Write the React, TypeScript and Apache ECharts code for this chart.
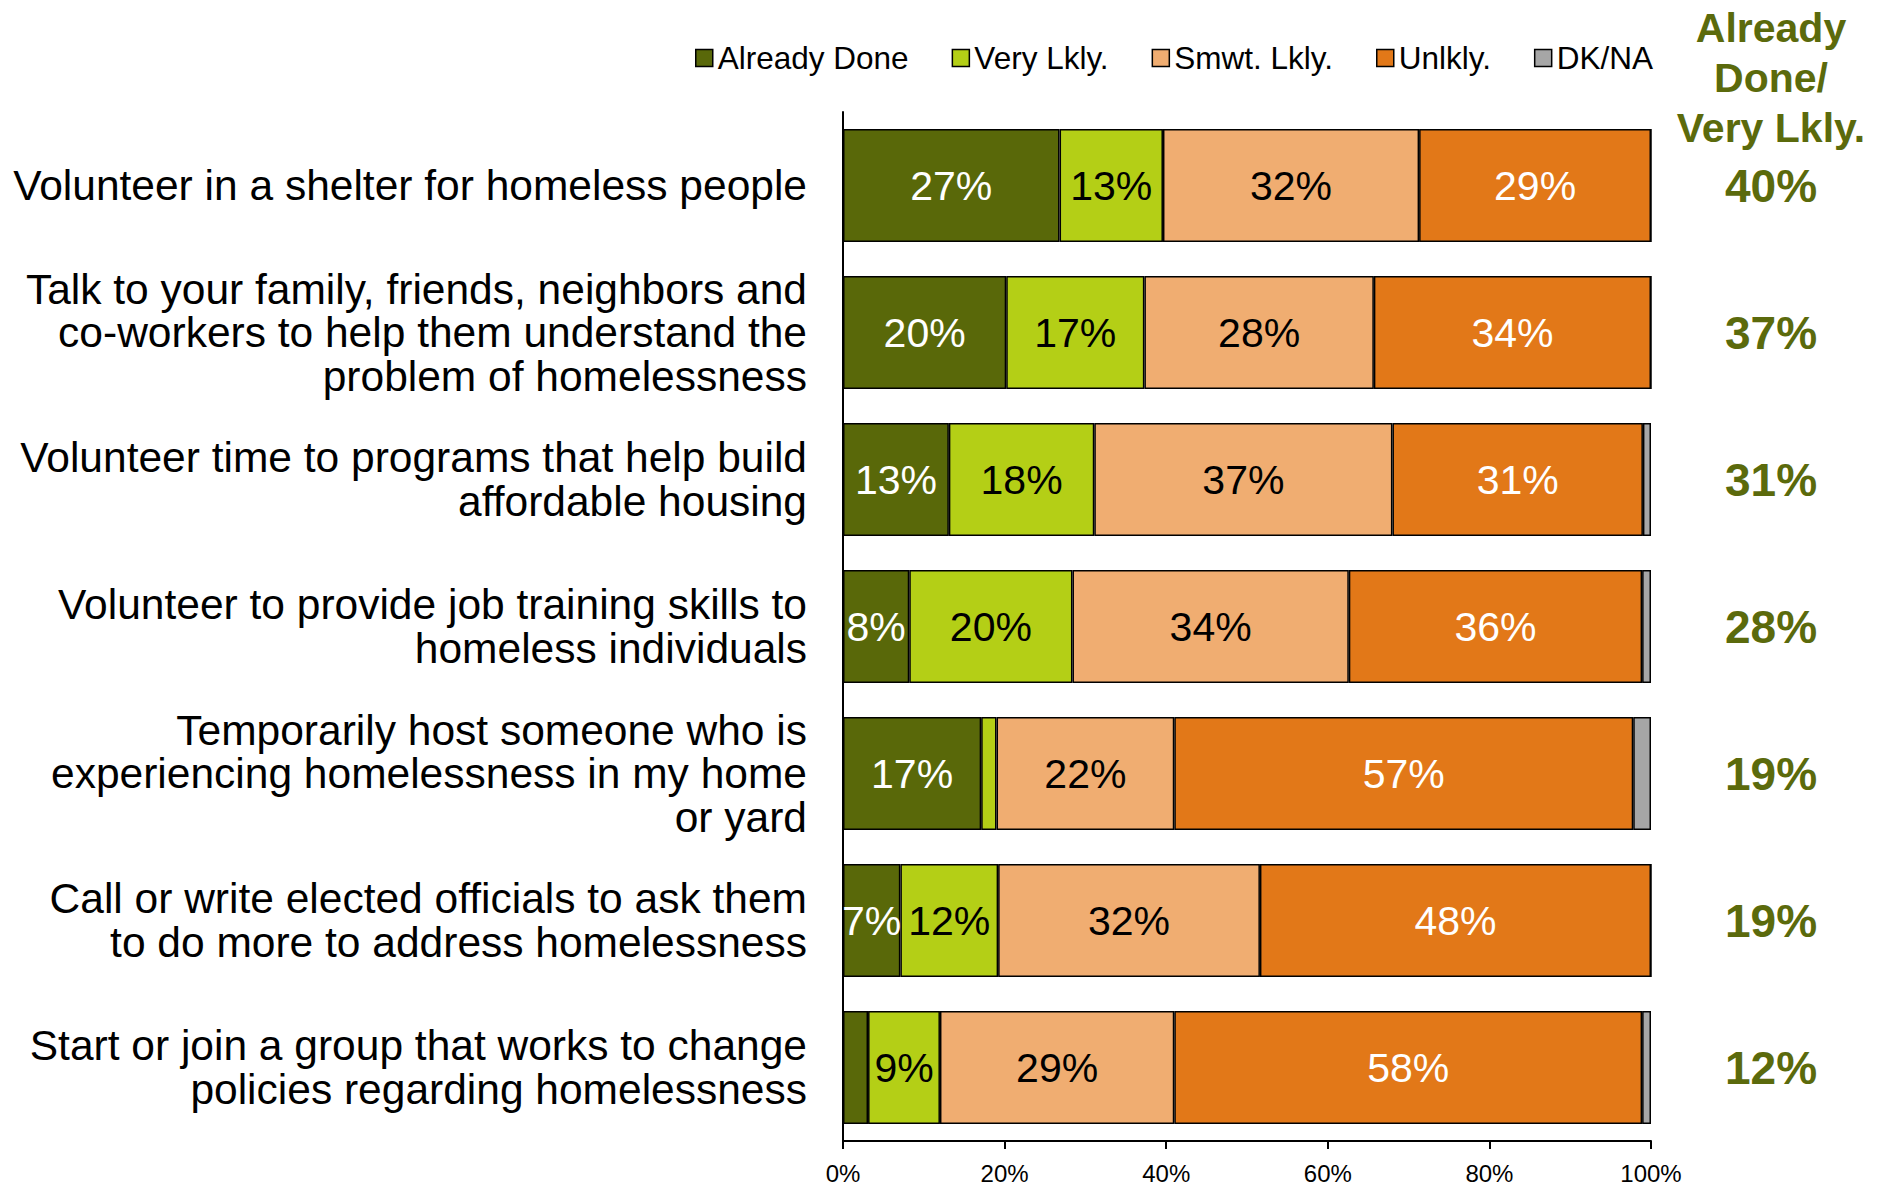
import React, { useEffect, useRef } from "react";
import * as echarts from "echarts";

const categories = [
  "Volunteer in a shelter for homeless people",
  "Talk to your family, friends, neighbors and\nco-workers to help them understand the\nproblem of homelessness",
  "Volunteer time to programs that help build\naffordable housing",
  "Volunteer to provide job training skills to\nhomeless individuals",
  "Temporarily host someone who is\nexperiencing homelessness in my home\nor yard",
  "Call or write elected officials to ask them\nto do more to address homelessness",
  "Start or join a group that works to change\npolicies regarding homelessness",
];

const alreadyDone = [26.8, 20.2, 13.1, 8.2, 17.1, 7.1, 3.1];
const veryLikely = [12.8, 17.1, 18.0, 20.2, 1.9, 12.1, 8.9];
const somewhatLikely = [31.7, 28.4, 36.9, 34.2, 22.0, 32.4, 29.0];
const unlikely = [28.7, 34.3, 31.0, 36.3, 56.8, 48.4, 57.9];
const dkna = [0, 0, 1.0, 1.1, 2.2, 0, 1.1];

const netLikely = ["40%", "37%", "31%", "28%", "19%", "19%", "12%"];
const xTicks = [0, 20, 40, 60, 80, 100];

const seriesNames = ["Already Done", "Very Lkly.", "Smwt. Lkly.", "Unlkly.", "DK/NA"];
const seriesColors = ["#596809", "#B4CF16", "#F0AD71", "#E27818", "#A6A6A6"];
const labelColors = ["#FFFFFF", "#000000", "#000000", "#FFFFFF", "#000000"];

const FONT = "'Liberation Sans', Arial, Helvetica, sans-serif";
const GREEN = "#5B6A0C";

export default function App() {
  const ref = useRef<HTMLDivElement>(null);

  useEffect(() => {
    document.body.style.margin = "0";
    if (!ref.current) return;
    const chart = echarts.init(ref.current, undefined, { renderer: "svg" });
    const seriesData = [alreadyDone, veryLikely, somewhatLikely, unlikely, dkna];

    const option: any = {
      animation: false,
      backgroundColor: "#FFFFFF",
      textStyle: { fontFamily: FONT },
      legend: {
        data: seriesNames,
        left: 690,
        top: 36,
        itemWidth: 17,
        itemHeight: 17,
        itemGap: 43,
        icon: "rect",
        textStyle: { fontSize: 31.5, color: "#000", fontFamily: FONT, lineHeight: 34 },
        itemStyle: { borderColor: "#000", borderWidth: 1.5 },
      },
      graphic: [
        {
          type: "text",
          x: 1771,
          y: 78,
          style: {
            text: "Already\nDone/\nVery Lkly.",
            align: "center",
            verticalAlign: "middle",
            fontSize: 41,
            fontWeight: "bold",
            fontFamily: FONT,
            lineHeight: 50,
            fill: GREEN,
          },
        },
      ],
      grid: {
        left: 843,
        right: 236,
        top: 112,
        bottom: 44,
        containLabel: false,
        outerBoundsMode: "none",
      },
      xAxis: {
        type: "value",
        min: 0,
        max: 100,
        interval: 20,
        axisLine: { show: true, lineStyle: { color: "#000", width: 2 } },
        axisTick: { show: true, length: 8, lineStyle: { color: "#000", width: 2 } },
        splitLine: { show: false },
        axisLabel: {
          formatter: (v: number) => (xTicks.includes(v) ? v + "%" : ""),
          fontSize: 24,
          color: "#000",
          fontFamily: FONT,
          margin: 20,
        },
      },
      yAxis: [
        {
          type: "category",
          data: categories,
          inverse: true,
          axisLine: { show: true, lineStyle: { color: "#000", width: 2 } },
          axisTick: { show: false },
          axisLabel: {
            fontSize: 42.5,
            lineHeight: 43.5,
            color: "#000",
            fontFamily: FONT,
            align: "right",
            margin: 36,
          },
        },
        {
          type: "category",
          data: netLikely,
          inverse: true,
          position: "right",
          axisLine: { show: false },
          axisTick: { show: false },
          axisLabel: {
            fontSize: 46,
            fontWeight: "bold",
            color: GREEN,
            fontFamily: FONT,
            align: "center",
            margin: 120,
          },
        },
      ],
      series: seriesNames.map((name, i) => ({
        name,
        type: "bar",
        stack: "total",
        yAxisIndex: 0,
        barCategoryGap: "23%",
        data: seriesData[i],
        itemStyle: { color: seriesColors[i], borderColor: "#000", borderWidth: 1.5 },
        label: {
          show: i < 4,
          position: "inside",
          fontSize: 41,
          color: labelColors[i],
          fontFamily: FONT,
          formatter: (p: any) => (p.value >= 5 ? Math.round(p.value) + "%" : ""),
        },
      })),
    };

    chart.setOption(option);
    return () => chart.dispose();
  }, []);

  return <div ref={ref} style={{ width: 1887, height: 1185 }} />;
}
